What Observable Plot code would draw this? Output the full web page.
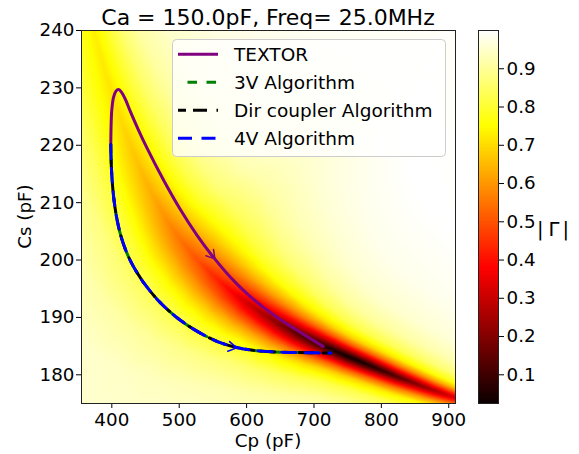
<!DOCTYPE html>
<html><head><meta charset="utf-8">
<script src="https://cdn.jsdelivr.net/npm/d3@7"></script>
<script src="https://cdn.jsdelivr.net/npm/@observablehq/plot@0.6"></script>
<style>
body{margin:0;background:#fff;}
#wrap{position:relative;width:579px;height:454px;font-family:"DejaVu Sans",sans-serif;overflow:hidden;}
#wrap svg{position:absolute;top:0;}
</style></head><body><div id="wrap"></div>
<script>
// ---------------- data ----------------
const title = "Ca = 150.0pF, Freq= 25.0MHz";
const xLabel = "Cp (pF)", yLabel = "Cs (pF)", colorLabel = "|Γ|";
const xTicks = [400, 500, 600, 700, 800, 900];
const yTicks = [180, 190, 200, 210, 220, 230, 240];
const cbTicks = [0.1, 0.2, 0.3, 0.4, 0.5, 0.6, 0.7, 0.8, 0.9];
const cpRange = [355, 910];
const csRange = [175, 240];
const gammaRange = [0.025, 1.0];

// TEXTOR trajectory
const textorCp = [398.5,398.9,400,402.4,405.9,409.8,413.3,419.7,427.1,439.4,451.9,476.5,501.2,526,550.6,575.3,600.1,624.7,649.4,674.2,698.8,713.6];
const textorCs = [220.1,223.3,226.2,228.3,229.4,229.7,229.4,228.1,226.0,222.7,219.6,214.0,208.9,204.4,200.5,197.1,194.2,191.8,189.7,187.8,186.0,184.95];

// 3V / Dir coupler / 4V algorithm trajectory (identical paths)
const algoCp = [398.5,398.8,399.6,400.9,402.8,405.3,408.5,412.5,417.5,423.5,430.5,438.5,447.5,457.5,468.5,480.5,494,509,525,542,561,585,615,650,690,725];
const algoCs = [220.1,218,215.6,213.2,210.9,208.7,206.6,204.6,202.7,200.9,199.2,197.6,196.0,194.5,193.0,191.6,190.2,188.9,187.7,186.6,185.6,184.75,184.2,183.95,183.85,183.8];

// direction arrows on the trajectories
const arrowSeries = ["TEXTOR", "4V Algorithm"];
const arrowTailCp = [495.8, 497.7];
const arrowTailCs = [208.3, 186.57];
const arrowTipCp = [553, 585.3];
const arrowTipCs = [200.2, 184.7];

// |Γ| map: valley line of the map, its minimum, and its half-widths (in Cs) above / below
const valleyCp  = [330,345,360,375,390,405,420,440,460,480,500,525,550,575,600,625,650,675,700,725,750,775,800,825,850,875,900,930,960];
const valleyCs  = [268,257,247.5,239.5,233,227.5,222.5,216.5,211.5,207.3,203.8,200.3,197.4,194.8,192.6,190.6,188.8,187.2,185.8,184.5,183.2,182.0,180.8,179.6,178.5,177.4,176.4,175.3,174.3];
const valleyMin = [0.76,0.75,0.74,0.73,0.72,0.71,0.69,0.66,0.63,0.59,0.55,0.5,0.44,0.38,0.31,0.25,0.19,0.13,0.08,0.04,0.02,0.03,0.07,0.12,0.18,0.24,0.3,0.36,0.41];
const valleyWidthUp   = [13,13,13,12.5,12,11.5,11,10,9,8,7.2,6.2,5.1,4.2,3.4,2.9,2.5,2.1,1.8,1.55,1.4,1.3,1.25,1.2,1.15,1.1,1.05,1.0,1.0];
const valleyWidthDown = [20,19,18,17,15.5,14,12.5,11,9.6,8.3,7.2,6.1,5.2,4.4,3.6,3.0,2.6,2.2,1.9,1.65,1.5,1.4,1.35,1.3,1.25,1.2,1.15,1.1,1.1];
// profile across the valley: distance (in widths) and fraction of the rise from the minimum to 1
const profileSteps = [0.5, 1, 1.6, 2.5, 4, 6, 9, 14, 24];
const profileRise  = [0.15, 0.32, 0.5, 0.68, 0.82, 0.9, 0.95, 0.98, 1.0];
const lowerPlateau = 0.955;

const legendLabels = ["TEXTOR", "3V Algorithm", "Dir coupler Algorithm", "4V Algorithm"];

// ---------------- layout ----------------
const W = 470, H = 454, mL = 81, mR = 15, mT = 30, mB = 51;
const FONT = "DejaVu Sans";
const kx = (W - mL - mR) / (cpRange[1] - cpRange[0]);
const ky = (H - mT - mB) / (csRange[1] - csRange[0]);

// sample table of the map (points along lines across the valley)
const field = [];
valleyCp.forEach((cp, i) => {
  const a = Math.max(0, i - 1), b = Math.min(valleyCp.length - 1, i + 1);
  let tx = (valleyCp[b] - valleyCp[a]) * kx, ty = (valleyCs[b] - valleyCs[a]) * ky;
  const tl = Math.hypot(tx, ty); tx /= tl; ty /= tl;
  const nx = -ty, ny = tx;
  const f = valleyMin[i], cs = valleyCs[i];
  field.push({cp, cs, g: f});
  [[valleyWidthUp[i], 1], [valleyWidthDown[i], -1]].forEach(([w, side]) => {
    const d = w * ky * Math.abs(tx);
    profileSteps.forEach((s, k) => {
      let g = f + (1 - f) * profileRise[k];
      if (side < 0) g = Math.min(g, lowerPlateau);
      field.push({cp: cp + side * s * d * nx / kx, cs: cs + side * s * d * ny / ky, g});
    });
  });
});

// matplotlib "hot" colormap
const v0 = gammaRange[0], v1 = gammaRange[1];
const hotDomain = [v0, v0 + 0.365079 * (v1 - v0), v0 + 0.746032 * (v1 - v0), v1];
const hotRange = ["rgb(11,0,0)", "rgb(255,0,0)", "rgb(255,255,0)", "rgb(255,255,255)"];
const colorScale = {type: "linear", domain: hotDomain, range: hotRange, interpolate: "rgb", clamp: true};

const textor = textorCp.map((cp, i) => ({cp, cs: textorCs[i]}));
const algo = algoCp.map((cp, i) => ({cp, cs: algoCs[i]}));
const arrows = arrowSeries.map((s, i) => ({s, x1: arrowTailCp[i], y1: arrowTailCs[i], x2: arrowTipCp[i], y2: arrowTipCs[i]}));
const seriesColor = {"TEXTOR": "purple", "3V Algorithm": "green", "Dir coupler Algorithm": "black", "4V Algorithm": "blue"};
const seriesDash = {"TEXTOR": null, "3V Algorithm": "9.5,9.5", "Dir coupler Algorithm": "8,7,14,9.5", "4V Algorithm": "14,9.5"};
const seriesOffset = {"TEXTOR": 0, "3V Algorithm": 9.5, "Dir coupler Algorithm": 0, "4V Algorithm": 0};

const main = Plot.plot({
  width: W, height: H, marginLeft: mL, marginRight: mR, marginTop: mT, marginBottom: mB,
  style: {fontFamily: FONT, fontSize: "18.3px", color: "black", background: "white"},
  x: {domain: cpRange, ticks: xTicks, tickFormat: d => String(d), tickSize: 5, tickPadding: 4, label: null},
  y: {domain: csRange, ticks: yTicks, tickFormat: d => String(d), tickSize: 5, tickPadding: 2, label: null},
  color: colorScale,
  marks: [
    Plot.raster(field, {x: "cp", y: "cs", fill: "g", interpolate: "barycentric",
      x1: cpRange[0], x2: cpRange[1], y1: csRange[0], y2: csRange[1], pixelSize: 1}),
    Plot.line(textor, {x: "cp", y: "cs", stroke: seriesColor["TEXTOR"], strokeWidth: 3, curve: "catmull-rom"}),
    ...["3V Algorithm", "Dir coupler Algorithm", "4V Algorithm"].map(s =>
      Plot.line(algo, {x: "cp", y: "cs", stroke: seriesColor[s], strokeWidth: 3, curve: "catmull-rom",
        strokeDasharray: seriesDash[s], strokeDashoffset: seriesOffset[s]})),
    Plot.arrow(arrows, {x1: "x1", y1: "y1", x2: "x2", y2: "y2", stroke: d => seriesColor[d.s],
      strokeWidth: 1.5, headLength: 9.5, headAngle: 62, insetStart: 57}),
    Plot.frame({stroke: "#222", strokeWidth: 1})
  ]
});
main.style.left = "0px";

const cb = Plot.plot({
  width: 110, height: H, marginLeft: 18, marginRight: 72, marginTop: mT, marginBottom: mB,
  style: {fontFamily: FONT, fontSize: "18.3px", color: "black", background: "transparent"},
  x: {domain: [0, 1], axis: null},
  y: {domain: gammaRange, ticks: cbTicks, tickFormat: d3.format(".1f"), axis: "right", tickSize: 5, tickPadding: 3, label: null},
  color: colorScale,
  marks: [
    Plot.raster({fill: (x, y) => y, x1: 0, x2: 1, y1: gammaRange[0], y2: gammaRange[1], pixelSize: 1}),
    Plot.frame({stroke: "#222", strokeWidth: 1})
  ]
});
cb.style.left = "460px";

const wrap = document.getElementById("wrap");
wrap.appendChild(main);
wrap.appendChild(cb);

// overlay: title, axis labels, legend, colorbar label
const ov = d3.create("svg").attr("width", 579).attr("height", 454)
  .style("left", "0px").style("font-family", FONT).style("pointer-events", "none");
ov.append("text").attr("x", 268).attr("y", 25).attr("text-anchor", "middle").attr("font-size", 22).text(title);
ov.append("text").attr("x", 268).attr("y", 447).attr("text-anchor", "middle").attr("font-size", 18.3).text(xLabel);
ov.append("text").attr("transform", "translate(31,216.5) rotate(-90)").attr("text-anchor", "middle").attr("font-size", 18.3).text(yLabel);
const cl = ov.append("text").attr("x", 537).attr("y", 236).attr("font-size", 19.5);
cl.append("tspan").text(colorLabel[0]);
cl.append("tspan").attr("dx", 5).text(colorLabel[1]);
cl.append("tspan").attr("dx", 3).text(colorLabel[2]);

const lg = ov.append("g");
lg.append("rect").attr("x", 172.5).attr("y", 39.5).attr("width", 273).attr("height", 117).attr("rx", 4)
  .attr("fill", "white").attr("fill-opacity", 0.8).attr("stroke", "#cccccc");
const rowY = [54.3, 82.3, 110.2, 138.3];
legendLabels.forEach((s, i) => {
  lg.append("line").attr("x1", 178).attr("x2", 218).attr("y1", rowY[i]).attr("y2", rowY[i])
    .attr("stroke", seriesColor[s]).attr("stroke-width", 3)
    .attr("stroke-dasharray", seriesDash[s]).attr("stroke-dashoffset", seriesOffset[s]);
  lg.append("text").attr("x", 234).attr("y", rowY[i] + 7).attr("font-size", 18.5).text(s);
});
wrap.appendChild(ov.node());
</script></body></html>
